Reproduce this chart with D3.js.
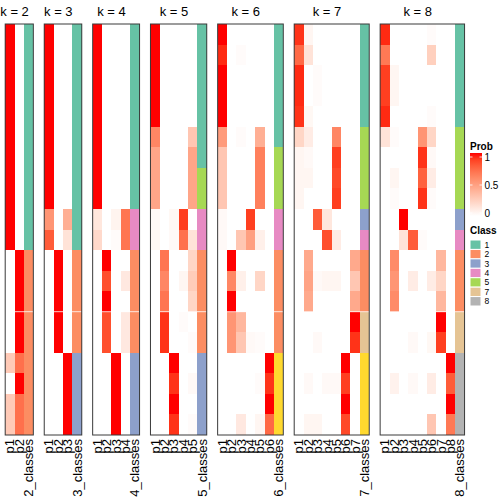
<!DOCTYPE html>
<html><head><meta charset="utf-8">
<script src="https://cdn.jsdelivr.net/npm/d3@7"></script>
<style>body{margin:0;background:#fff}svg{display:block;font-family:"Liberation Sans",Arial,sans-serif}</style>
</head><body><svg id="c" width="504" height="504"></svg>
<script>
// ---- data ----
const ks = [2,3,4,5,6,7,8];
const probs2 = [
 [1,0],[1,0],[1,0],[1,0],[1,0],[1,0],[1,0],[1,0],[1,0],[1,0],[1,0],
 [0,1],[0,1],[0,1],[0,1],[0,1],[0.28,0.72],[0,1],[0.28,0.72],[0.28,0.72]];
const classes2 = [1,1,1,1,1,1,1,1,1,1,1,2,2,2,2,2,2,2,2,2];
const probs3 = [
 [1,0,0],[1,0,0],[1,0,0],[1,0,0],[1,0,0],[1,0,0],[1,0,0],[1,0,0],[1,0,0],
 [0.55,0,0.42],[0.8,0,0.15],
 [0,1,0],[0,1,0],[0,1,0],[0,1,0],[0,1,0],
 [0,0,1],[0,0,1],[0,0,1],[0,0,1]];
const classes3 = [1,1,1,1,1,1,1,1,1,1,1,2,2,2,2,2,3,3,3,3];
const probs4 = [
 [1,0,0,0],[1,0,0,0],[1,0,0,0],[1,0,0,0],[1,0,0,0],[1,0,0,0],[1,0,0,0],[1,0,0,0],[1,0,0,0],
 [0.13,0,0.06,0.7],[0.2,0,0.02,0.7],
 [0,1,0,0],[0,0.85,0,0.12],[0,1,0,0],[0,0.85,0,0.12],[0,0.85,0,0.12],
 [0,0,1,0],[0,0,1,0],[0,0,1,0],[0,0,1,0]];
const classes4 = [1,1,1,1,1,1,1,1,1,4,4,2,2,2,2,2,3,3,3,3];
const probs5 = [
 [1,0,0,0,0],[1,0,0,0,0],[1,0,0,0,0],[1,0,0,0,0],[1,0,0,0,0],
 [0.62,0,0,0,0.3],[0.47,0,0,0,0.47],[0.47,0,0,0,0.47],[0.47,0,0,0,0.47],
 [0.03,0,0.04,0.9,0],[0.04,0,0.03,0.72,0.15],
 [0,0.7,0,0,0.22],[0,0.62,0,0.05,0.27],[0,0.7,0,0,0.22],[0,0.93,0,0.02,0],[0,0.93,0,0,0.02],
 [0,0,1,0,0],[0,0,0.93,0,0.03],[0,0,1,0,0],[0,0,0.93,0,0.02]];
const classes5 = [1,1,1,1,1,1,1,5,5,4,4,2,2,2,2,2,3,3,3,3];
const probs6 = [
 [1,0,0,0,0,0],[0.95,0,0.02,0,0,0],[1,0,0,0,0,0],[1,0,0,0,0,0],[1,0,0,0,0,0],
 [0.52,0,0.02,0,0.42,0],[0.3,0,0,0,0.65,0],[0.3,0,0,0,0.65,0],[0.3,0,0,0,0.65,0],
 [0.03,0,0,0.9,0,0],[0.03,0,0.3,0.5,0.08,0],
 [0,1,0,0,0,0],[0,0.62,0.08,0,0.22,0],[0,1,0,0,0,0],[0,0.55,0.38,0,0,0],[0,0.55,0.3,0.03,0.02,0],
 [0,0,0,0,0,1],[0,0,0,0,0.02,0.93],[0,0,0,0,0,1],[0,0,0.12,0,0.05,0.75]];
const classes6 = [1,1,1,1,1,1,5,5,5,4,4,2,2,2,2,2,6,6,6,6];
const probs7 = [
 [0.93,0.05,0,0,0,0,0],[0.75,0.15,0,0,0,0,0],[0.95,0,0.02,0,0,0,0],[0.95,0,0.02,0,0,0,0],[0.93,0.04,0,0,0,0,0],
 [0.22,0.1,0,0,0.62,0,0],[0.05,0.03,0,0,0.9,0,0],[0.05,0.05,0,0,0.87,0,0],[0.05,0,0,0,0.9,0,0],
 [0,0,0.8,0.13,0,0,0],[0,0,0,0.85,0.1,0,0],
 [0,0.45,0,0,0,0,0.45],[0,0.48,0.03,0.05,0.05,0,0.3],[0,0.45,0,0,0,0,0.45],
 [0,0,0,0,0,0,1],[0,0,0.03,0,0,0,0.93],
 [0,0,0,0,0,1,0],[0,0.03,0,0.03,0.03,0.9,0],[0,0,0,0,0,1,0],[0,0.05,0.05,0,0,0.87,0]];
const classes7 = [1,1,1,1,1,5,5,5,5,3,4,2,2,2,7,7,6,6,6,6];
const probs8 = [
 [0.95,0,0,0,0,0.02,0,0],[0.68,0,0,0,0,0.25,0,0],[0.9,0.05,0,0,0,0,0,0],[0.9,0.05,0,0,0,0,0,0],[0.95,0,0,0,0,0.02,0,0],
 [0.15,0.02,0,0,0.55,0.22,0,0],[0,0,0,0,0.93,0.03,0,0],[0,0.05,0,0,0.78,0.1,0,0],[0,0.02,0,0,0.93,0.02,0,0],
 [0,0,1,0,0,0,0,0],[0,0,0.15,0.8,0.02,0,0,0],
 [0,0.6,0,0,0,0,0.38,0],[0,0.55,0,0.1,0,0.1,0.22,0],[0,0.6,0,0,0,0,0.38,0],
 [0,0,0,0,0,0,1,0],[0,0,0,0.03,0,0.04,0.9,0],
 [0,0,0,0,0,0,0,1],[0,0.07,0,0.03,0,0.1,0,0.8],[0,0,0,0,0,0,0,1],[0,0,0,0,0,0.3,0,0.68]];
const classes8 = [1,1,1,1,1,5,5,5,5,3,4,2,2,2,7,7,8,8,8,8];
const probsByK = {2:probs2,3:probs3,4:probs4,5:probs5,6:probs6,7:probs7,8:probs8};
const classesByK = {2:classes2,3:classes3,4:classes4,5:classes5,6:classes6,7:classes7,8:classes8};
const classIds = [1,2,3,4,5,6,7,8];
const classColors = ["#66C2A5","#FC8D62","#8DA0CB","#E78AC3","#A6D854","#FFD92F","#E5C494","#B3B3B3"];
const legendClasses = [1,2,3,4,5,7,8];
const probTicks = [0,0.5,1];
const probTickLabels = ["0","0.5","1"];

// ---- drawing ----
const svg = d3.select("#c");
const colW = 9.38, gap = 10.9, x0 = 5.2;
const yTop = 24, yBottom = 435;
const nRows = probs2.length;
const y = d3.scaleBand().domain(d3.range(nRows)).range([yTop, yBottom]).padding(0);
const probColor = d3.scaleLinear().domain([0,1]).range(["#ffffff","#ff0000"]).interpolate(d3.interpolateLab);
const classColor = d3.scaleOrdinal().domain(classIds).range(classColors);

let left = x0;
ks.forEach(k => {
  const cols = d3.range(1,k+1).map(i => "p"+i).concat([k+"_classes"]);
  const width = cols.length * colW;
  const x = d3.scaleBand().domain(cols).range([left, left+width]);
  const g = svg.append("g");
  const probs = probsByK[k], cls = classesByK[k];
  probs.forEach((row, r) => {
    row.forEach((v, c) => {
      g.append("rect").attr("x", x(cols[c])).attr("y", y(r))
        .attr("width", x.bandwidth()).attr("height", y.bandwidth())
        .attr("fill", probColor(v)).attr("shape-rendering","crispEdges");
    });
  });
  g.selectAll("rect.cl").data(cls).join("rect").attr("class","cl")
    .attr("x", x(cols[k])).attr("y", (d,i) => y(i))
    .attr("width", x.bandwidth()).attr("height", y.bandwidth())
    .attr("fill", d => classColor(d)).attr("shape-rendering","crispEdges");
  g.append("line").attr("x1", left).attr("x2", left+width)
    .attr("y1", y(14)).attr("y2", y(14)).attr("stroke","#fff").attr("stroke-width",0.8);
  g.append("rect").attr("x", left).attr("y", yTop).attr("width", width).attr("height", yBottom-yTop)
    .attr("fill","none").attr("stroke","#3a3a3a").attr("stroke-width",1);
  g.append("text").attr("x", (x("p1") + x("p"+k) + x.bandwidth())/2).attr("y", 16)
    .attr("text-anchor","middle").attr("font-size","13px").attr("fill","#000").text("k = " + k);
  cols.forEach(cn => {
    const cx = x(cn) + x.bandwidth()/2;
    g.append("text").attr("transform", `translate(${cx},439) rotate(-90)`)
      .attr("text-anchor","end").attr("dy","0.35em").attr("font-size","13px").attr("fill","#000").text(cn);
  });
  left += width + gap;
});

// ---- legends ----
const lx = 470;
svg.append("text").attr("x", lx).attr("y", 149.5).attr("font-size","10px").attr("font-weight","bold").text("Prob");
const defs = svg.append("defs");
const grad = defs.append("linearGradient").attr("id","pg").attr("x1",0).attr("y1",1).attr("x2",0).attr("y2",0);
d3.range(0,1.001,0.1).forEach(t => grad.append("stop").attr("offset", t).attr("stop-color", probColor(t)));
const ly = d3.scaleLinear().domain([0,1]).range([213, 157]);
svg.append("rect").attr("x", lx).attr("y", 153).attr("width", 12).attr("height", 63).attr("fill","url(#pg)");
probTicks.forEach((t,i) => {
  svg.append("line").attr("x1", lx).attr("x2", lx+2.5).attr("y1", ly(t)).attr("y2", ly(t)).attr("stroke","#fff").attr("stroke-width",0.8);
  svg.append("line").attr("x1", lx+9.5).attr("x2", lx+12).attr("y1", ly(t)).attr("y2", ly(t)).attr("stroke","#fff").attr("stroke-width",0.8);
  svg.append("text").attr("x", 484.5).attr("y", ly(t)).attr("dy","0.35em").attr("font-size","10px").text(probTickLabels[i]);
});
svg.append("text").attr("x", lx).attr("y", 234).attr("font-size","10px").attr("font-weight","bold").text("Class");
const sy = d3.scaleBand().domain(legendClasses).range([240, 306]);
legendClasses.forEach(c => {
  svg.append("rect").attr("x", lx).attr("y", sy(c)).attr("width", 11).attr("height", sy.bandwidth())
    .attr("fill", classColor(c)).attr("stroke","#fff").attr("stroke-width",1);
  svg.append("text").attr("x", 484.5).attr("y", sy(c) + sy.bandwidth()/2).attr("dy","0.35em").attr("font-size","8.5px").text(c);
});
</script></body></html>
